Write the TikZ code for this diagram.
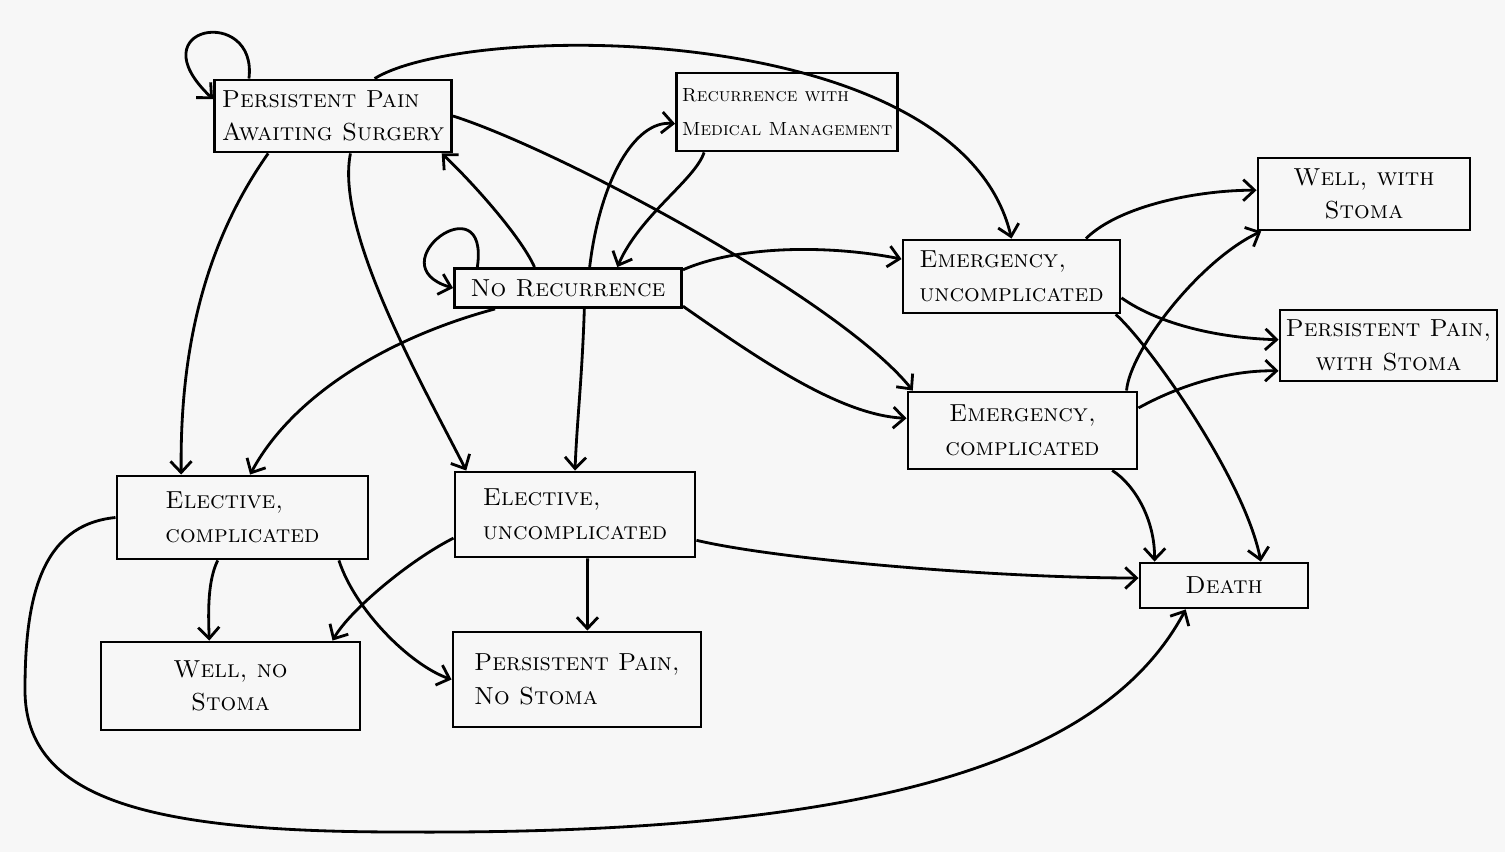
\documentclass[tikz,border=0pt]{standalone}
\usepackage{tikz}
\usetikzlibrary{arrows.meta}

\begin{document}
\begin{tikzpicture}[x=0.01cm, y=-0.01cm,
  state/.style={draw, line width=0.8pt, inner sep=1.5pt, align=left,
    font=\fontsize{7}{9.5}\selectfont\scshape},
  link/.style={line width=0.8pt, -{Straight Barb[length=3.2pt,width=6pt]}}]
\fill[black!3] (0,0) rectangle (1505,852);
\useasboundingbox (0,0) rectangle (1505,852);

% states
\node[state, minimum width=2.37cm, minimum height=0.72cm] (pp) at (333,116) {Persistent Pain\\Awaiting Surgery};
\node[state, minimum width=2.11cm, minimum height=0.78cm, font=\fontsize{5.4}{9.5}\selectfont\scshape] (rec) at (787,112) {Recurrence with\\Medical Management};
\node[state, minimum width=2.12cm, minimum height=0.72cm, align=center] (wws) at (1364,194) {Well, with\\Stoma};
\node[state, minimum width=2.27cm, minimum height=0.39cm] (nr) at (568,288) {No Recurrence};
\node[state, minimum width=2.17cm, minimum height=0.73cm] (eu) at (1011.5,276.5) {Emergency,\\uncomplicated};
\node[state, minimum width=2.17cm, minimum height=0.71cm, align=center] (ppws) at (1388.5,345.5) {Persistent Pain,\\with Stoma};
\node[state, minimum width=2.29cm, minimum height=0.77cm, align=center] (ec) at (1022.5,430.5) {Emergency,\\complicated};
\node[state, minimum width=2.51cm, minimum height=0.83cm] (elc) at (242.5,517.5) {Elective,\\complicated};
\node[state, minimum width=2.40cm, minimum height=0.85cm] (elu) at (575,514.5) {Elective,\\uncomplicated};
\node[state, minimum width=1.68cm, minimum height=0.45cm] (death) at (1224,585.5) {Death};
\node[state, minimum width=2.59cm, minimum height=0.88cm, align=center] (wns) at (230.5,686) {Well, no\\Stoma};
\node[state, minimum width=2.48cm, minimum height=0.95cm] (ppns) at (577,679.5) {Persistent Pain,\\No Stoma};

% from persistent pain
\draw[link] (pp.156) .. controls (258,5) and (135,25) .. (pp.172);
\draw[link] (pp.42) .. controls (470,20) and (960,20) .. (eu.north);
\draw[link] (pp.east) .. controls (560,150) and (840,300) .. (ec.160);
\draw[link] (pp.210) .. controls (200,250) and (180,360) .. (elc.145);
\draw[link] (pp.295) .. controls (335,230) and (420,380) .. (elu.158);

% from no recurrence
\draw[link] (nr.167) .. controls (490,180) and (375,265) .. (nr.west);
\draw[link] (nr.148) .. controls (520,235) and (470,180) .. (pp.341);
\draw[link] (nr.44) .. controls (600,180) and (635,120) .. (rec.186);
\draw[link] (rec.206) .. controls (695,180) and (640,215) .. (nr.23);
\draw[link] (nr.9) .. controls (740,245) and (830,245) .. (eu.171);
\draw[link] (nr.351) .. controls (760,360) and (840,415) .. (ec.174);
\draw[link] (nr.196) .. controls (380,340) and (290,400) .. (elc.80);
\draw[link] (nr.308) .. controls (582,380) and (577,420) .. (elu.north);

% emergency
\draw[link] (eu.27) .. controls (1120,205) and (1200,190) .. (wws.178);
\draw[link] (eu.349) .. controls (1160,325) and (1220,338) .. (ppws.177);
\draw[link] (eu.340) .. controls (1150,345) and (1245,480) .. (death.33.5);
\draw[link] (ec.21) .. controls (1130,350) and (1200,260) .. (wws.200);
\draw[link] (ec.11) .. controls (1180,385) and (1230,370) .. (ppws.193);
\draw[link] (ec.336) .. controls (1135,485) and (1155,520) .. (death.161);

% elective
\draw[link] (elc.240) .. controls (208,580) and (208,610) .. (wns.115);
\draw[link] (elc.336) .. controls (355,610) and (410,665) .. (ppns.west);
\draw[link] (elc.west) .. controls (40,525) and (25,600) .. (25,690)
  .. controls (25,800) and (150,832) .. (400,832)
  .. controls (850,835) and (1100,770) .. (death.212);
\draw[link] (elu.191) .. controls (410,560) and (350,610) .. (wns.24);
\draw[link] (elu.286) -- (ppns.78);
\draw[link] (elu.348) .. controls (780,560) and (1000,578) .. (death.175);
\end{tikzpicture}
\end{document}
